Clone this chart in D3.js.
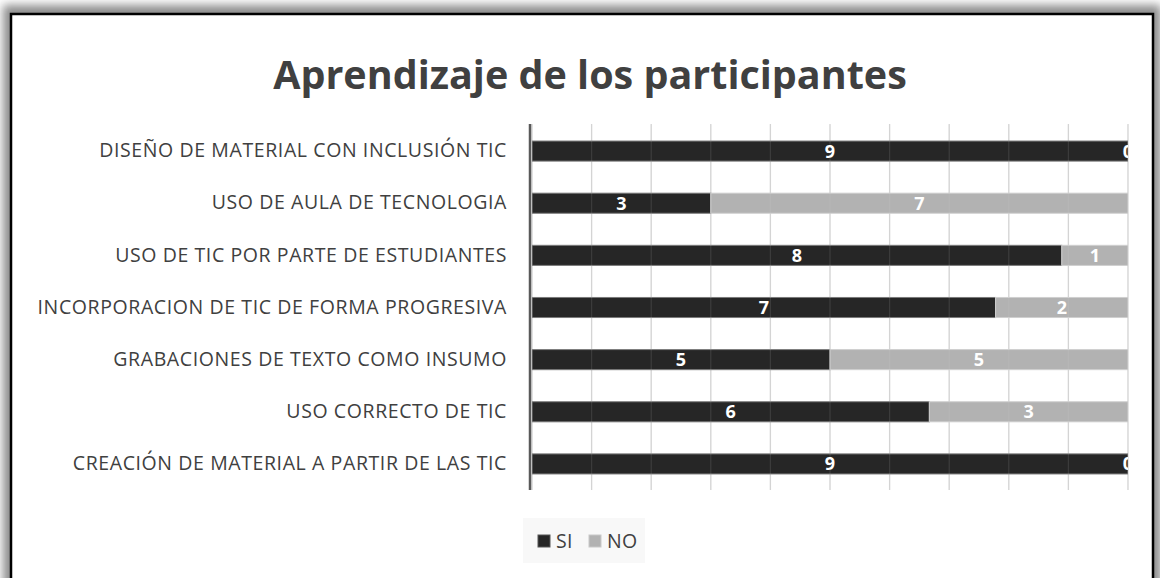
<!DOCTYPE html>
<html>
<head>
<meta charset="utf-8">
<script src="https://cdn.jsdelivr.net/npm/d3@7"></script>
<style>
  html, body { margin: 0; padding: 0; background: #fff; }
  svg text { font-family: "Open Sans", "DejaVu Sans", sans-serif; }
</style>
</head>
<body>
<div id="chart"></div>
<script>
const categories = [
    "DISEÑO DE MATERIAL CON INCLUSIÓN TIC",
    "USO DE AULA DE TECNOLOGIA",
    "USO DE TIC POR PARTE DE ESTUDIANTES",
    "INCORPORACION DE TIC DE FORMA PROGRESIVA",
    "GRABACIONES DE TEXTO COMO INSUMO",
    "USO CORRECTO DE TIC",
    "CREACIÓN DE MATERIAL A PARTIR DE LAS TIC"
];
const siValues = [9, 3, 8, 7, 5, 6, 9];
const noValues = [0, 7, 1, 2, 5, 3, 0];
const seriesNames = ["SI", "NO"];
const seriesColors = ["#262626", "#b2b2b2"];
const gridTicks = [0, 0.1, 0.2, 0.3, 0.4, 0.5, 0.6, 0.7, 0.8, 0.9, 1];

const w = 1160,
    h = 578;

const plot = {left: 532, right: 1128, top: 125, bottom: 490};

const rows = categories.map((c, i) => ({cat: c, SI: siValues[i], NO: noValues[i]}));

const svg = d3.select("#chart")
    .append("svg")
    .attr("width", w)
    .attr("height", h);

// frame shadow + border
const defs = svg.append("defs");
defs.append("filter")
    .attr("id", "shadow")
    .attr("x", "-5%").attr("y", "-5%")
    .attr("width", "110%").attr("height", "110%")
    .append("feGaussianBlur")
    .attr("stdDeviation", 5);

defs.append("clipPath")
    .attr("id", "plotClip")
    .append("rect")
    .attr("x", plot.left)
    .attr("y", plot.top - 2)
    .attr("width", plot.right - plot.left)
    .attr("height", plot.bottom - plot.top + 4);

svg.append("rect")
    .attr("x", 3).attr("y", 5)
    .attr("width", 1158).attr("height", 620)
    .attr("fill", "#8c8c8c")
    .attr("filter", "url(#shadow)");

svg.append("rect")
    .attr("x", 11).attr("y", 14)
    .attr("width", 1142).attr("height", 600)
    .attr("fill", "#fff")
    .attr("stroke", "#000")
    .attr("stroke-width", 2.5);

// title
svg.append("text")
    .attr("x", 590)
    .attr("y", 89)
    .attr("text-anchor", "middle")
    .attr("font-size", 39.5)
    .attr("font-weight", "bold")
    .attr("fill", "#404040")
    .text("Aprendizaje de los participantes");

const x = d3.scaleLinear()
    .domain([0, 1])
    .range([plot.left, plot.right]);

const y = d3.scaleBand()
    .domain(categories)
    .range([plot.top, plot.bottom])
    .paddingInner(0.615)
    .paddingOuter(0.3075);

// gridlines
svg.append("g")
    .selectAll("line")
    .data(gridTicks)
    .enter()
    .append("line")
    .attr("x1", d => x(d))
    .attr("x2", d => x(d))
    .attr("y1", plot.top - 1)
    .attr("y2", plot.bottom)
    .attr("stroke", "#d4d4d4")
    .attr("stroke-width", 1.3);

// stacked (100%) bars
const stacked = d3.stack()
    .keys(seriesNames)
    .offset(d3.stackOffsetExpand)(rows);

const barG = svg.append("g").attr("clip-path", "url(#plotClip)");

stacked.forEach((layer, li) => {
    barG.append("g")
        .selectAll("rect")
        .data(layer)
        .enter()
        .append("rect")
        .attr("x", d => x(d[0]))
        .attr("y", d => y(d.data.cat))
        .attr("width", d => x(d[1]) - x(d[0]))
        .attr("height", y.bandwidth())
        .attr("fill", seriesColors[li])
        .attr("stroke", li === 0 ? "#7a7a7a" : "#cfcfcf")
        .attr("stroke-width", 1);
});

// faint gridlines over bars
barG.append("g")
    .selectAll("line")
    .data(gridTicks)
    .enter()
    .append("line")
    .attr("x1", d => x(d))
    .attr("x2", d => x(d))
    .attr("y1", plot.top)
    .attr("y2", plot.bottom)
    .attr("stroke", "#d9d9d9")
    .attr("stroke-opacity", 0.12)
    .attr("stroke-width", 1.3);

// value labels
stacked.forEach((layer, li) => {
    barG.append("g")
        .selectAll("text")
        .data(layer)
        .enter()
        .append("text")
        .attr("x", d => x((d[0] + d[1]) / 2))
        .attr("y", d => y(d.data.cat) + y.bandwidth() / 2)
        .attr("dy", "0.36em")
        .attr("text-anchor", "middle")
        .attr("font-size", 18)
        .attr("font-weight", "bold")
        .attr("fill", "#fff")
        .text(d => d.data[seriesNames[li]]);
});

// category axis
const yAxis = svg.append("g")
    .attr("transform", "translate(" + (plot.left - 2) + ",0)")
    .call(d3.axisLeft(y).tickSize(0).tickPadding(23));

yAxis.select(".domain")
    .attr("stroke", "#595959")
    .attr("stroke-width", 2.5)
    .attr("d", "M0," + (plot.top - 1) + "V" + plot.bottom);

yAxis.selectAll("text")
    .attr("font-size", 19.5)
    .attr("letter-spacing", "0.6px")
    .attr("fill", "#404040")
    .style("font-family", "'Open Sans', sans-serif");

// legend
const legend = svg.append("g");
legend.append("rect")
    .attr("x", 523).attr("y", 518)
    .attr("width", 122).attr("height", 45)
    .attr("fill", "#f8f8f8");

const legendX = [538, 589];
seriesNames.forEach((s, i) => {
    legend.append("rect")
        .attr("x", legendX[i]).attr("y", 535)
        .attr("width", 12).attr("height", 12)
        .attr("fill", seriesColors[i])
        .attr("stroke", i === 0 ? "#555" : "#c8c8c8")
        .attr("stroke-width", 1);
    legend.append("text")
        .attr("x", legendX[i] + 18)
        .attr("y", 548)
        .attr("font-size", 19.5)
        .attr("letter-spacing", "0.4px")
        .attr("fill", "#404040")
        .text(s);
});
</script>
</body>
</html>
